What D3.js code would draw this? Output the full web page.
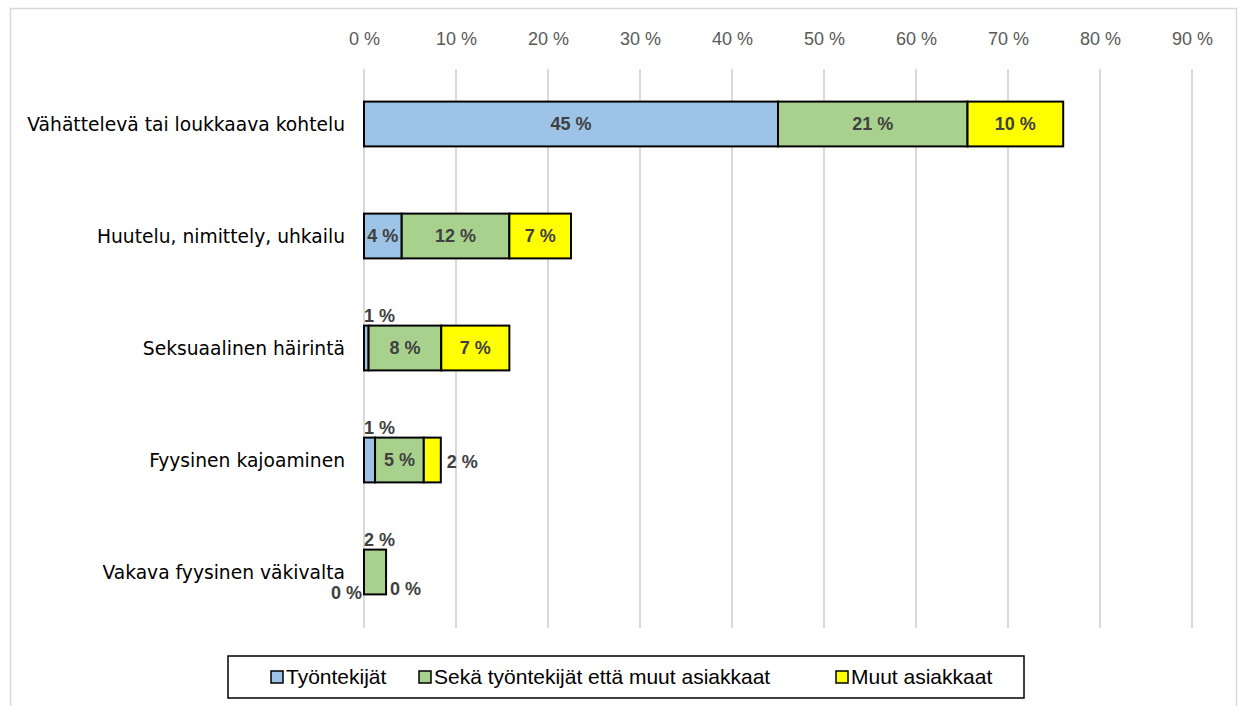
<!DOCTYPE html>
<html><head><meta charset="utf-8">
<script src="https://cdn.jsdelivr.net/npm/d3@7"></script>
<style>
html,body{margin:0;padding:0;background:#fff;}
svg{display:block;}
</style></head>
<body>
<script>
const categories = ["Vähättelevä tai loukkaava kohtelu","Huutelu, nimittely, uhkailu","Seksuaalinen häirintä","Fyysinen kajoaminen","Vakava fyysinen väkivalta"];
const seriesNames = ["Työntekijät","Sekä työntekijät että muut asiakkaat","Muut asiakkaat"];
const tyontekijat = [45.0, 4.1, 0.5, 1.2, 0.0];
const molemmat = [20.6, 11.7, 7.9, 5.3, 2.4];
const muut = [10.4, 6.7, 7.4, 1.85, 0.0];
const tickValues = [0,10,20,30,40,50,60,70,80,90];
// label placement per category (Työntekijät, Molemmat, Muut)
const labelModes = [
  ["center","center","center"],
  ["center","center","center"],
  ["above","center","center"],
  ["above","center","right"],
  ["leftlow","above","rightlow"]
];
const colors = ["#9DC3E6","#A9D18E","#FFFF00"];

const W=1239,H=706;
const svg=d3.select("body").append("svg").attr("width",W).attr("height",H);
// outer frame
svg.append("path").attr("d","M10.5,706 V8.5 H1236.5 V706").attr("fill","none").attr("stroke","#d9d9d9").attr("stroke-width",1.5);

const x=d3.scaleLinear().domain([0,90]).range([364,1192]);
const y=d3.scaleBand().domain(categories).range([68,628]).paddingInner(0.6).paddingOuter(0.3);

// gridlines
svg.append("g").selectAll("line").data(tickValues).join("line")
  .attr("x1",d=>x(d)).attr("x2",d=>x(d)).attr("y1",69).attr("y2",628)
  .attr("stroke","#d9d9d9").attr("stroke-width",2);

// top axis
const ax=svg.append("g").attr("transform","translate(0,45)")
  .call(d3.axisTop(x).tickValues(tickValues).tickSize(0).tickPadding(0).tickFormat(d=>d+" %"));
ax.select(".domain").remove();
ax.selectAll("text").attr("font-family","Liberation Sans, Arial, sans-serif").attr("font-size",18).attr("fill","#595959").attr("dy","0");

// category axis
const ay=svg.append("g").attr("transform","translate(345,0)")
  .call(d3.axisLeft(y).tickSize(0).tickPadding(0));
ay.select(".domain").remove();
ay.selectAll("text").attr("font-family","DejaVu Sans, Verdana, sans-serif").attr("font-size",18.7).attr("fill","#000").attr("dy","0.35em");

// stacked data
const rows=categories.map((c,i)=>({cat:c,a:tyontekijat[i],b:molemmat[i],c2:muut[i]}));
const stack=d3.stack().keys(["a","b","c2"])(rows);

const g=svg.append("g");
stack.forEach((layer,si)=>{
  g.append("g").selectAll("rect").data(layer).join("rect")
    .attr("x",d=>x(d[0])).attr("width",d=>x(d[1])-x(d[0]))
    .attr("y",d=>y(d.data.cat)).attr("height",y.bandwidth())
    .attr("fill",colors[si]).attr("stroke","#000").attr("stroke-width",2);
});

// data labels
const lg=svg.append("g").attr("font-family","Liberation Sans, Arial, sans-serif").attr("font-size",18).attr("font-weight","bold").attr("fill","#404040");
stack.forEach((layer,si)=>{
  layer.forEach((d,i)=>{
    const v=d[1]-d[0];
    const txt=Math.round(v)+" %";
    const mode=labelModes[i][si];
    const y0=y(d.data.cat), bw=y.bandwidth(), yc=y0+bw/2;
    let tx,ty,anchor;
    if(mode==="center"){tx=(x(d[0])+x(d[1]))/2;ty=yc;anchor="middle";}
    else if(mode==="above"){tx=x(d[0]);ty=y0-10;anchor="start";}
    else if(mode==="right"){tx=x(d[1])+6;ty=yc+2;anchor="start";}
    else if(mode==="rightlow"){tx=x(d[1])+4;ty=y0+bw-6;anchor="start";}
    else if(mode==="leftlow"){tx=x(d[0])-2;ty=y0+bw-2;anchor="end";}
    lg.append("text").attr("x",tx).attr("y",ty).attr("dy","0.35em").attr("text-anchor",anchor).text(txt);
  });
});

// legend
const leg=svg.append("g");
leg.append("rect").attr("x",228).attr("y",656).attr("width",796).attr("height",42).attr("fill","#fff").attr("stroke","#000").attr("stroke-width",1.5);
const legX=[271,419,836];
seriesNames.forEach((n,i)=>{
  leg.append("rect").attr("x",legX[i]).attr("y",671).attr("width",12).attr("height",12).attr("fill",colors[i]).attr("stroke","#000").attr("stroke-width",1.5);
  leg.append("text").attr("x",legX[i]+15).attr("y",677).attr("dy","0.35em")
    .attr("font-family","Liberation Sans, Arial, sans-serif").attr("font-size",21).attr("fill","#000").text(n);
});
</script>
</body></html>
